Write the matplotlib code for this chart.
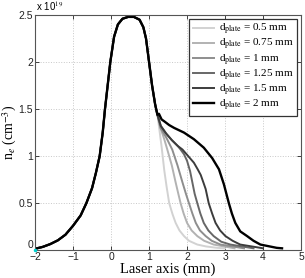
import matplotlib
matplotlib.use('Agg')
import matplotlib.pyplot as plt

plt.rcParams['mathtext.fontset'] = 'stix'
plt.rcParams['font.family'] = ['Liberation Sans', 'DejaVu Sans']

# shared part of the density profile (units of 1e19 cm^-3)
x_common = [-2.0, -1.8, -1.6, -1.4, -1.2, -1.0, -0.8, -0.65, -0.5, -0.4,
            -0.3, -0.22, -0.16, -0.09, -0.02, 0.08, 0.18, 0.3, 0.45, 0.6,
            0.75, 0.85, 0.92, 1.0, 1.08, 1.16, 1.22]
ne_common = [0.015, 0.035, 0.065, 0.105, 0.165, 0.26, 0.37, 0.5, 0.66, 0.82,
             1.0, 1.25, 1.5, 1.75, 2.0, 2.27, 2.4, 2.46, 2.48, 2.48,
             2.45, 2.37, 2.25, 2.0, 1.75, 1.55, 1.44]

plates = ['0.5', '0.75', '1', '1.25', '1.5', '2']
colors = ['#d2d2d2', '#b2b2b2', '#8e8e8e', '#676767', '#3c3c3c', '#000000']
widths = [1.4, 1.4, 1.4, 1.4, 1.4, 1.7]

# tails after the curves separate
x_tail = {
    '0.5': [1.25, 1.33, 1.40, 1.46, 1.53, 1.62, 1.70, 1.80, 1.92, 2.05, 2.27, 2.5, 2.79, 3.0],
    '0.75': [1.3, 1.4, 1.48, 1.6, 1.70, 1.77, 1.83, 1.91, 2.0, 2.12, 2.27, 2.45, 2.70, 3.25],
    '1': [1.3, 1.45, 1.61, 1.75, 1.88, 1.97, 2.05, 2.14, 2.23, 2.34, 2.49, 2.65, 2.88, 3.5],
    '1.25': [1.31, 1.45, 1.6, 1.75, 1.83, 1.92, 2.0, 2.08, 2.14, 2.2, 2.27, 2.35,
             2.44, 2.56, 2.70, 2.9, 3.14, 3.75],
    '1.5': [1.31, 1.45, 1.6, 1.75, 1.88, 2.03, 2.18, 2.28, 2.36, 2.43, 2.49, 2.57,
            2.66, 2.75, 2.87, 3.01, 3.2, 3.4, 3.93, 4.0],
    '2': [1.26, 1.33, 1.4, 1.53, 1.66, 1.92, 2.18, 2.44, 2.66, 2.84, 2.97, 3.1,
          3.18, 3.27, 3.4, 3.58, 3.75, 3.93, 4.36, 4.5],
}
ne_tail = {
    '0.5': [1.35, 1.1, 0.85, 0.68, 0.5, 0.38, 0.29, 0.21, 0.15, 0.1, 0.06, 0.04, 0.025, 0.02],
    '0.75': [1.3, 1.18, 1.07, 0.9, 0.72, 0.6, 0.5, 0.39, 0.29, 0.21, 0.15, 0.1, 0.06, 0.02],
    '1': [1.3, 1.2, 1.07, 0.9, 0.72, 0.6, 0.5, 0.39, 0.29, 0.21, 0.15, 0.1, 0.06, 0.02],
    '1.25': [1.32, 1.24, 1.17, 1.11, 1.07, 1.02, 0.95, 0.84, 0.72, 0.6, 0.5, 0.39,
             0.29, 0.21, 0.15, 0.09, 0.06, 0.02],
    '1.5': [1.32, 1.24, 1.17, 1.11, 1.07, 1.0, 0.93, 0.86, 0.8, 0.72, 0.65, 0.5,
            0.39, 0.29, 0.21, 0.15, 0.1, 0.06, 0.025, 0.02],
    '2': [1.45, 1.39, 1.37, 1.33, 1.30, 1.25, 1.18, 1.09, 0.98, 0.86, 0.7, 0.5,
          0.39, 0.29, 0.2, 0.15, 0.1, 0.06, 0.025, 0.02],
}

xticks = [-2, -1, 0, 1, 2, 3, 4, 5]
xtick_labels = ['\u22122', '\u22121', '0', '1', '2', '3', '4', '5']
yticks = [0, 0.5, 1, 1.5, 2, 2.5]
ytick_labels = ['0', '0.5', '1', '1.5', '2', '2.5']

fig = plt.figure(figsize=(3.05, 2.78), dpi=100)
ax = fig.add_axes([0.115, 0.1, 0.872, 0.846])

for p, c, w in zip(plates, colors, widths):
    xs = x_common + x_tail[p]
    ys = ne_common + ne_tail[p]
    ax.plot(xs, ys, color=c, lw=w,
            label=r'd$_{\mathrm{plate}}$ = ' + p + ' mm')

# small cyan mark at the origin
ax.plot([-2], [0], '.', color='#00d0d0', ms=3, clip_on=False, zorder=5)

ax.set_xlim(-2, 5)
ax.set_ylim(0, 2.5)
ax.set_xticks(xticks)
ax.set_xticklabels(xtick_labels)
ax.set_yticks(yticks)
ax.set_yticklabels(ytick_labels)
ax.tick_params(direction='in', top=True, right=True, labelsize=7.5,
               length=3, width=0.6, pad=1.5, colors='#222222')
ax.get_yticklabels()[0].set_verticalalignment('bottom')
ax.grid(True, color='#c8c8c8', linestyle=':', linewidth=0.7)
for s in ax.spines.values():
    s.set_color('#555555')
    s.set_linewidth(0.8)

ax.text(0.005, 1.008, r'x 10$^{19}$', transform=ax.transAxes, fontsize=7,
        family='Liberation Sans', va='bottom', ha='left')
ax.set_xlabel('Laser axis (mm)', family='Liberation Serif', fontsize=10.5,
              labelpad=0)
ax.set_ylabel(r'n$_e$ (cm$^{-3}$)', family='Liberation Serif', fontsize=10)
ax.yaxis.set_label_coords(-0.062, 0.5)

leg = ax.legend(loc='upper right', prop={'family': 'Liberation Serif', 'size': 8},
                fancybox=False, framealpha=1, edgecolor='#333333',
                borderpad=0.3, labelspacing=0.0, handlelength=1.9,
                handletextpad=0.5, borderaxespad=0.35)
leg.get_frame().set_linewidth(0.9)

fig.savefig('out.png', dpi=100)
